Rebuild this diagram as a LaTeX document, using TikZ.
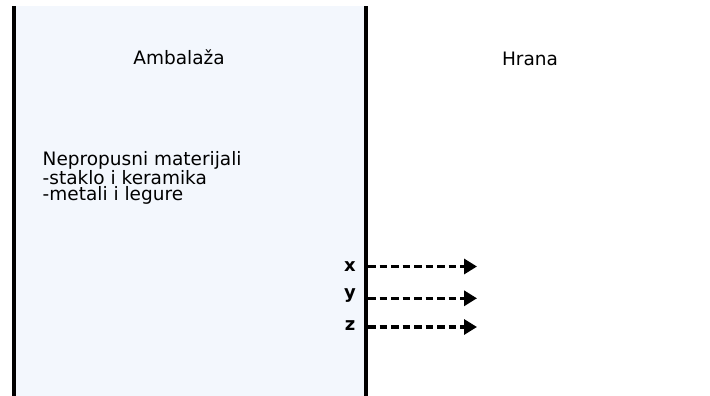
\documentclass[tikz,border=0pt]{standalone}
\usepackage{fontspec}
\setmainfont{DejaVu Sans}
\usetikzlibrary{arrows.meta}
\definecolor{packfill}{HTML}{F3F7FD}
\begin{document}
\begin{tikzpicture}[x=1pt,y=1pt,
  wall/.style={line width=4pt},
  heading/.style={font=\fontsize{18.5}{16.5}\selectfont, anchor=base, inner sep=0pt},
  species/.style={font=\fontsize{18}{18}\selectfont\bfseries, anchor=base, inner sep=0pt},
  flow/.style={line width=3.2pt, dash pattern=on 7.5pt off 4pt,
    -{Triangle[length=13pt,width=15pt]}}]
  \useasboundingbox (0,0) rectangle (710,396);
  % packaging layer between the two walls
  \fill[packfill] (14,0) rectangle (366,390);
  \draw[wall] (14,0) -- (14,390);
  \draw[wall] (366,0) -- (366,390);
  % headings
  \node[heading] (amb) at (179,331) {Ambalaža};
  \node[heading] (hrana) at (530,330) {Hrana};
  % material list
  \node[heading, anchor=north west, align=left] (mat) at (42.5,245)
    {Nepropusni materijali\\-staklo i keramika\\-metali i legure};
  % migrating species
  \node[species] (lx) at (350,124.3) {x};
  \node[species] (ly) at (350,97.7) {y};
  \node[species] (lz) at (350,65) {z};
  \coordinate (xs) at (368,129.5);
  \coordinate (xe) at (477,129.5);
  \coordinate (ys) at (368,97.7);
  \coordinate (ye) at (477,97.7);
  \coordinate (zs) at (368,69);
  \coordinate (ze) at (477,69);
  \draw[flow] (xs) -- (xe);
  \draw[flow] (ys) -- (ye);
  \draw[flow] (zs) -- (ze);
\end{tikzpicture}
\end{document}
